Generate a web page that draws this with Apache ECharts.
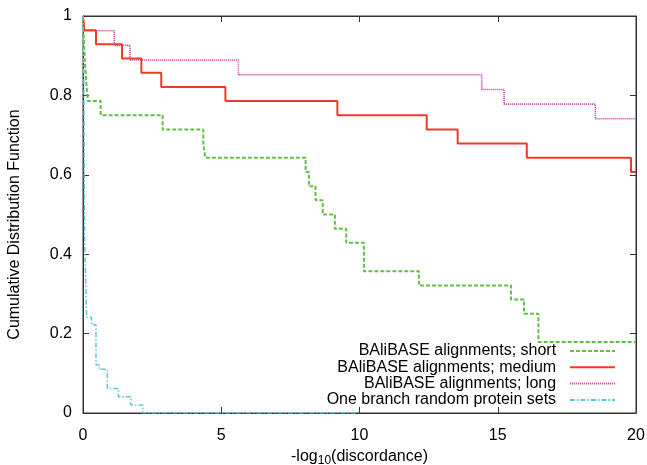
<!DOCTYPE html>
<html>
<head>
<meta charset="utf-8">
<script src="https://cdn.jsdelivr.net/npm/echarts@6/dist/echarts.min.js"></script>
<style>html,body{margin:0;padding:0;background:#fff}#c{width:647px;height:465px}</style>
</head>
<body>
<div id="c"></div>
<script>
var xTicks = [0, 5, 10, 15, 20];
var yTicks = [0, 0.2, 0.4, 0.6, 0.8, 1];
var seriesNames = ['BAliBASE alignments; short', 'BAliBASE alignments; medium', 'BAliBASE alignments; long', 'One branch random protein sets'];

var shortX = [0, 0.02, 0.04, 0.06, 0.1, 0.13, 0.18, 0.64, 2.88, 4.35, 4.42, 8.05, 8.17, 8.41, 8.67, 9.11, 9.52, 10.16, 12.15, 15.48, 15.95, 16.47, 20];
var shortY = [1, 0.964, 0.929, 0.893, 0.857, 0.821, 0.786, 0.75, 0.714, 0.679, 0.643, 0.607, 0.571, 0.536, 0.5, 0.464, 0.429, 0.357, 0.321, 0.286, 0.25, 0.179, 0.179];

var mediumX = [0, 0.05, 0.47, 1.41, 2.11, 2.83, 5.15, 9.2, 12.43, 13.55, 16.05, 19.82, 20];
var mediumY = [1, 0.964, 0.929, 0.893, 0.857, 0.821, 0.786, 0.75, 0.714, 0.679, 0.643, 0.607, 0.607];

var longX = [0, 0.04, 1.13, 1.70, 5.62, 14.42, 15.23, 18.53, 20];
var longY = [1, 0.963, 0.926, 0.889, 0.852, 0.815, 0.778, 0.741, 0.741];

var randX = [0, 0.03, 0.04, 0.05, 0.06, 0.07, 0.13, 0.31, 0.47, 0.59, 0.88, 1.28, 1.73, 2.16, 9.85];
var randY = [1, 0.85, 0.7, 0.55, 0.45, 0.41, 0.241, 0.222, 0.121, 0.11, 0.062, 0.041, 0.02, 0, 0];

function pts(xs, ys) { return xs.map(function (x, i) { return [x, ys[i]]; }); }

var FONT = 'Liberation Sans, Arial, Helvetica, sans-serif';
var AX = '#333';

var chart = echarts.init(document.getElementById('c'), null, {renderer: 'canvas'});

function mkSeries(name, data, color, width, type, z) {
  return {
    name: name, type: 'line', step: 'end', data: data,
    symbol: 'none', showSymbol: false, z: z,
    lineStyle: {color: color, width: width, type: type},
    itemStyle: {color: color},
    emphasis: {disabled: true}, animation: false
  };
}

chart.setOption({
  animation: false,
  grid: {left: 83, right: 11, top: 16, bottom: 52, show: true, borderColor: AX, borderWidth: 1,
         backgroundColor: 'transparent', containLabel: false, outerBoundsMode: 'none'},
  legend: {
    orient: 'vertical', right: 31, top: 343, align: 'right', padding: 0,
    itemWidth: 45, itemHeight: 14, itemGap: 0.3,
    data: seriesNames,
    itemStyle: {opacity: 0},
    formatter: function (n) { return n + '  '; },
    textStyle: {fontFamily: FONT, fontSize: 16, color: '#000'},
    selectedMode: false
  },
  xAxis: [{
    type: 'value', min: xTicks[0], max: xTicks[xTicks.length - 1], interval: xTicks[1] - xTicks[0],
    position: 'bottom',
    name: '-log{sub|10}(discordance)', nameLocation: 'middle', nameGap: 31,
    nameTextStyle: {fontFamily: FONT, fontSize: 16, color: '#000',
      rich: {sub: {fontFamily: FONT, fontSize: 12, color: '#000', verticalAlign: 'bottom', padding: [8, 0, 0, 0]}}},
    axisLine: {show: true, onZero: false, lineStyle: {color: AX, width: 1}},
    axisTick: {show: true, inside: true, length: 6, lineStyle: {color: AX}},
    axisLabel: {fontFamily: FONT, fontSize: 16, color: '#000', margin: 15},
    splitLine: {show: false}
  }, {
    type: 'value', min: xTicks[0], max: xTicks[xTicks.length - 1], interval: xTicks[1] - xTicks[0],
    position: 'top',
    axisLine: {show: true, onZero: false, lineStyle: {color: AX, width: 1}},
    axisTick: {show: true, inside: true, length: 6, lineStyle: {color: AX}},
    axisLabel: {show: false}, splitLine: {show: false}
  }],
  yAxis: [{
    type: 'value', min: yTicks[0], max: yTicks[yTicks.length - 1], interval: 0.2,
    position: 'left',
    name: 'Cumulative Distribution Function', nameLocation: 'middle', nameGap: 60,
    nameTextStyle: {fontFamily: FONT, fontSize: 16, color: '#000', padding: [0, 20, 0, 0]},
    axisLine: {show: true, onZero: false, lineStyle: {color: AX, width: 1}},
    axisTick: {show: true, inside: true, length: 6, lineStyle: {color: AX}},
    axisLabel: {fontFamily: FONT, fontSize: 16, color: '#000', margin: 11},
    splitLine: {show: false}
  }, {
    type: 'value', min: yTicks[0], max: yTicks[yTicks.length - 1], interval: 0.2,
    position: 'right',
    axisLine: {show: true, onZero: false, lineStyle: {color: AX, width: 1}},
    axisTick: {show: true, inside: true, length: 6, lineStyle: {color: AX}},
    axisLabel: {show: false}, splitLine: {show: false}
  }],
  series: [
    mkSeries(seriesNames[0], pts(shortX, shortY), '#62bf45', 2, [4, 2], 3),
    mkSeries(seriesNames[1], pts(mediumX, mediumY), '#f03a28', 2, 'solid', 4),
    mkSeries(seriesNames[2], pts(longX, longY), '#c452b4', 1.6, [1.2, 0.8], 2),
    mkSeries(seriesNames[3], pts(randX, randY), '#5cc6e0', 1.5, [5, 2, 1.5, 2], 5),
    {type: 'line', name: '_mirror', xAxisIndex: 1, yAxisIndex: 1, data: [], symbol: 'none', silent: true}
  ]
});
</script>
</body>
</html>
